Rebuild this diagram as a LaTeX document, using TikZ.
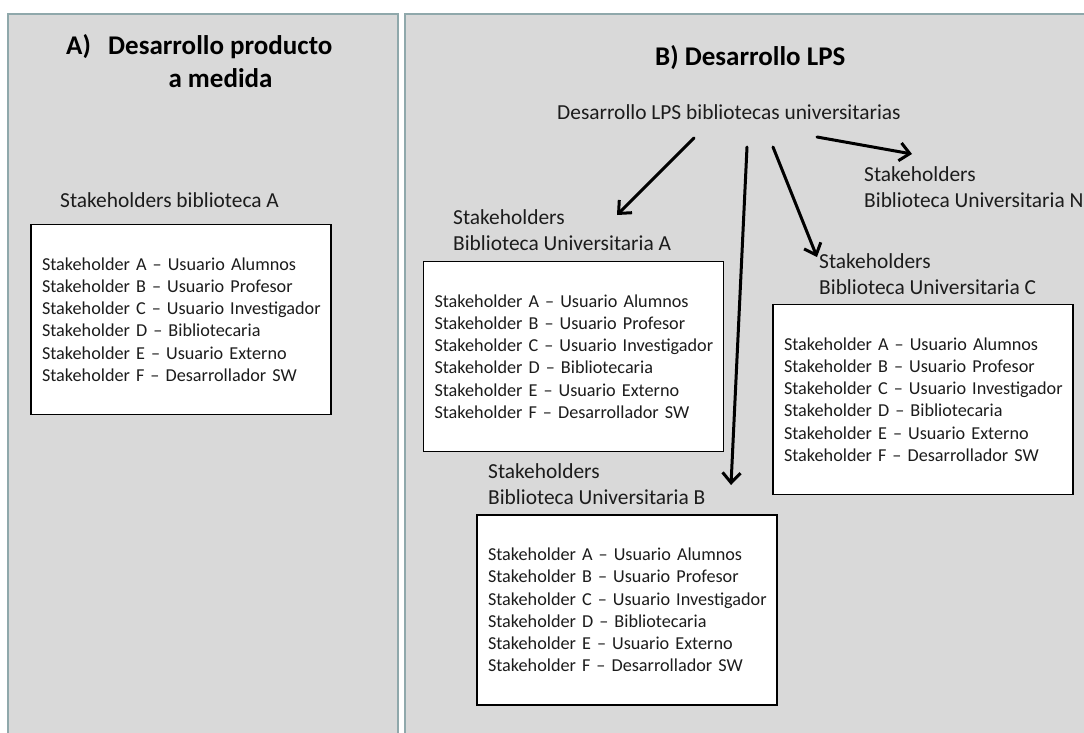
\documentclass[tikz,border=0pt]{standalone}
\usepackage{fontspec}
\setmainfont{Carlito}
\usetikzlibrary{arrows.meta}

\definecolor{panelfill}{HTML}{D9D9D9}
\definecolor{panelborder}{HTML}{8FA8AB}
\definecolor{inktext}{HTML}{1C1C1C}

\newcommand{\listfont}{\fontsize{18.2pt}{22.2pt}\selectfont}
\newcommand{\capfont}{\fontsize{21.4pt}{26pt}\selectfont}
\newcommand{\headfont}{\fontsize{27pt}{33pt}\selectfont\bfseries}

\tikzset{
  panel/.style={draw=panelborder, line width=2.5pt, fill=panelfill},
  listbox/.style={draw=black, line width=1.4pt, fill=white,
    minimum width=300pt, minimum height=190pt, text width=278pt,
    inner xsep=11pt, inner ysep=0pt, align=left, font=\listfont, text=inktext},
  stklabel/.style={anchor=base west, inner sep=0pt, align=left, font=\capfont, text=inktext},
  heading/.style={anchor=base west, inner sep=0pt, font=\headfont, text=black},
  flow/.style={line width=3pt, line cap=round, -{Straight Barb[length=10pt,width=18pt]}}
}

% the six stakeholder lines shared by every list box
\newcommand{\stklist}{\mbox{Stakeholder A – Usuario Alumnos}\\
\mbox{Stakeholder B – Usuario Profesor}\\
\mbox{Stakeholder C – Usuario Investigador}\\
\mbox{Stakeholder D – Bibliotecaria}\\
\mbox{Stakeholder E – Usuario Externo}\\
\mbox{Stakeholder F – Desarrollador SW}}

\begin{document}
\begin{tikzpicture}[x=1pt, y=-1pt]
\useasboundingbox (0,0) rectangle (1084,733);
\clip (0,0) rectangle (1084,733);
\fill[white] (0,0) rectangle (1084,733);

% two panels
\draw[panel] (8,14) rectangle (398,770);
\draw[panel] (405,14) rectangle (1120,770);

% panel A: custom product
\node[heading] (tagA) at (66,55) {A)};
\node[heading] (headA1) at (108,55) {Desarrollo producto};
\node[heading, anchor=base] (headA2) at (220.5,88) {a medida};
\node[stklabel] (labL) at (60,207) {Stakeholders biblioteca A};
\node[listbox] (boxL) at (181,319.5) {\stklist};

% panel B: product line (base anchor = baseline of the last line)
\node[heading] (headB) at (655,66) {B) Desarrollo LPS};
\node[stklabel] (root) at (557,120) {Desarrollo LPS bibliotecas universitarias};

\node[stklabel] (labA) at (453,250) {Stakeholders\\Biblioteca Universitaria A};
\node[listbox] (boxA) at (573.5,356.5) {\stklist};

\node[stklabel] (labC) at (819,294) {Stakeholders\\Biblioteca Universitaria C};
\node[listbox] (boxC) at (923,399.5) {\stklist};

\node[stklabel] (labB) at (488,504) {Stakeholders\\Biblioteca Universitaria B};
\node[listbox] (boxB) at (627,610) {\stklist};

\node[stklabel] (labN) at (864,207) {Stakeholders\\Biblioteca Universitaria N};

% arrow ends
\coordinate (a1s) at (694,138);
\coordinate (a1e) at (617,215);
\coordinate (a2s) at (747,147);
\coordinate (a2e) at (731,485);
\coordinate (a3s) at (773,147);
\coordinate (a3e) at (817,257);
\coordinate (a4s) at (817,137);
\coordinate (a4e) at (912,154);

\draw[flow] (a1s) -- (a1e);
\draw[flow] (a2s) -- (a2e);
\draw[flow] (a3s) -- (a3e);
\draw[flow] (a4s) -- (a4e);
\end{tikzpicture}
\end{document}
